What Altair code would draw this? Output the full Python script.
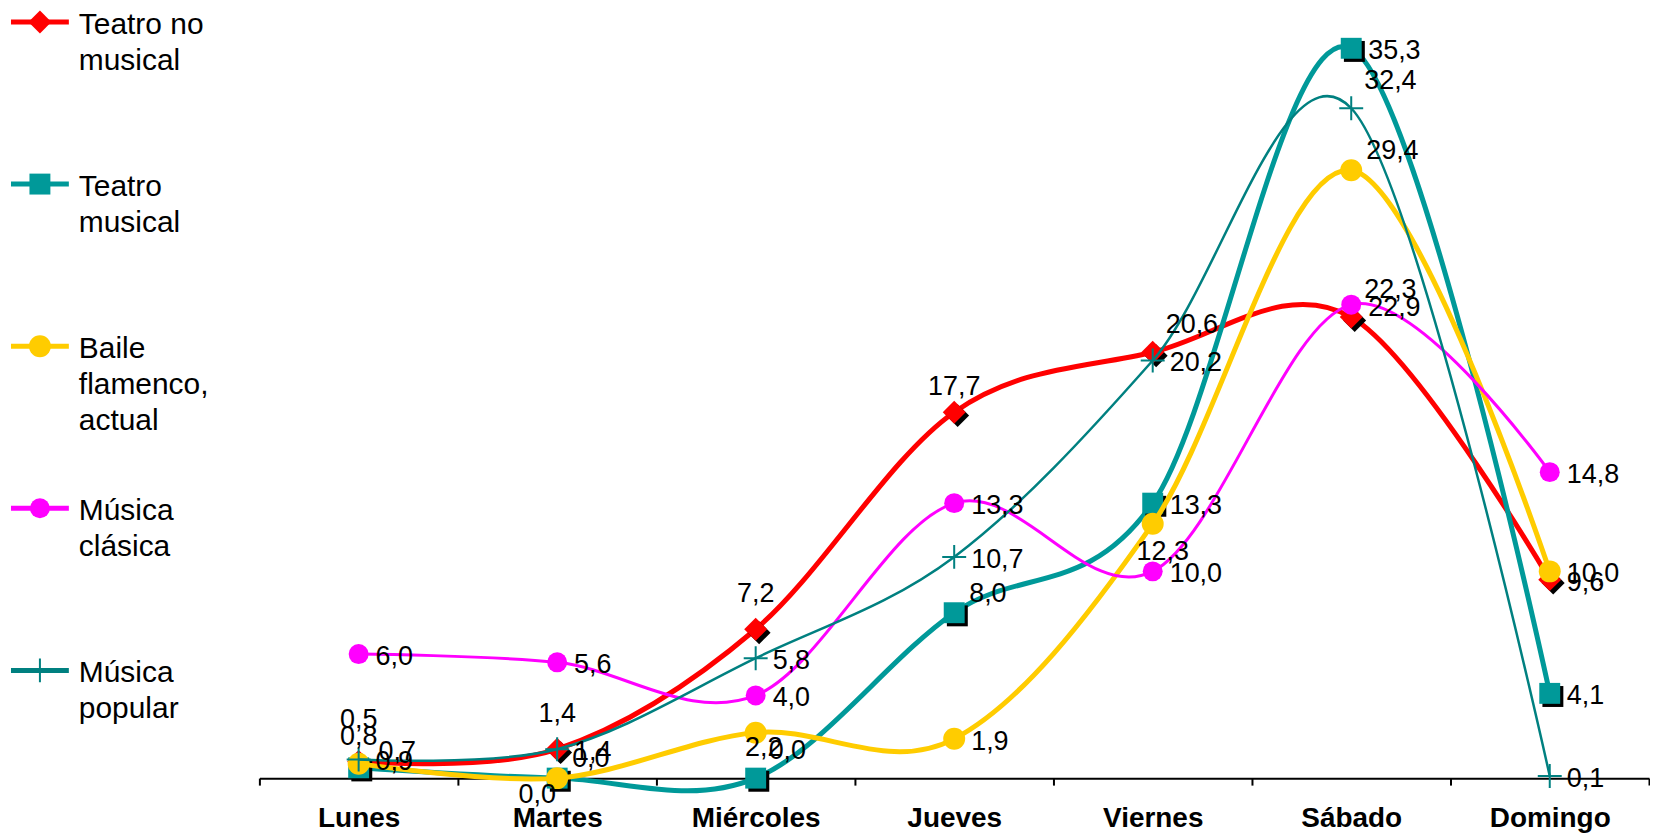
import altair as alt
import pandas as pd

# ---------------- data ----------------
days = ["Lunes", "Martes", "Miércoles", "Jueves", "Viernes", "Sábado", "Domingo"]

series_names = ["Teatro no musical", "Teatro musical", "Baile flamenco, actual",
                "Música clásica", "Música popular"]
legend_texts = ["Teatro no\nmusical", "Teatro\nmusical", "Baile\nflamenco,\nactual",
                "Música\nclásica", "Música\npopular"]

teatro_no_musical = [0.8, 1.4, 7.2, 17.7, 20.6, 22.3, 9.6]
teatro_musical = [0.5, 0.0, 0.0, 8.0, 13.3, 35.3, 4.1]
baile_flamenco = [0.7, 0.0, 2.2, 1.9, 12.3, 29.4, 10.0]
musica_clasica = [6.0, 5.6, 4.0, 13.3, 10.0, 22.9, 14.8]
musica_popular = [0.9, 1.4, 5.8, 10.7, 20.2, 32.4, 0.1]

values_by_series = [teatro_no_musical, teatro_musical, baile_flamenco,
                    musica_clasica, musica_popular]

# ---------------- styles ----------------
FONT = "Liberation Sans"
CROSS = "M-1,0H1M0,-1V1"
SQUARE_SHADOW = "M-0.7,-0.7H1.3V1.3H-0.7Z"
DIAMOND_SHADOW = "M0.3,-0.7L1.3,0.3L0.3,1.3L-0.7,0.3Z"

# label placement styles: (align, dx, dy)
placements = {
    "right": ("left", 17, 3),
    "right_up": ("left", 20, -12),
    "upright": ("left", 13, -27),
    "upright_near": ("left", 15, -19),
    "above": ("center", 0, -35),
    "above_near": ("center", 0, -25),
    "above_far": ("center", 0, -48),
    "below": ("center", 10, 28),
    "below_near": ("center", 8, 15),
    "below_left": ("center", -20, 17),
}

styles = {
    "Teatro no musical": dict(color="#FF0000", width=5, shape="diamond", size=529,
                              filled=True, shadow=DIAMOND_SHADOW,
                              labels=["above_near", "above", "above", "above_near",
                                      "upright", "upright", "right"]),
    "Teatro musical": dict(color="#009999", width=5, shape="square", size=440,
                           filled=True, shadow=SQUARE_SHADOW,
                           labels=["above_far", "upright_near", "upright", "upright_near",
                                   "right", "right", "right"]),
    "Baile flamenco, actual": dict(color="#FFCC00", width=5, shape="circle", size=484,
                                   filled=True, shadow=None,
                                   labels=["right_up", "below_left", "below_near", "right",
                                           "below", "upright_near", "right"]),
    "Música clásica": dict(color="#FF00FF", width=3, shape="circle", size=400,
                           filled=True, shadow=None, labels=["right"] * 7),
    "Música popular": dict(color="#008080", width=2.5, shape=CROSS, size=576,
                           filled=False, shadow=None,
                           labels=["right", "right", "right", "right", "right",
                                   "upright", "right"]),
}

rows = []
for name, vals in zip(series_names, values_by_series):
    for d, v, p in zip(days, vals, styles[name]["labels"]):
        rows.append({"day": d, "series": name, "value": v, "place": p,
                     "label": f"{v:.1f}".replace(".", ",")})
df = pd.DataFrame(rows)

legend_df = pd.DataFrame({"series": series_names, "idx": list(range(len(series_names))),
                          "text": legend_texts})

# ---------------- main chart ----------------
PLOT_H = 771
Y_MAX = 37.2

x_enc = alt.X("day:N", sort=days, bandPosition=0.5,
              scale=alt.Scale(type="band", paddingInner=0, paddingOuter=0),
              axis=alt.Axis(title=None, labelFont=FONT, labelFontWeight="bold",
                            labelFontSize=28, labelColor="black", labelAngle=0,
                            domainColor="black", domainWidth=2, tickColor="black",
                            tickWidth=2, tickSize=7, tickBand="extent",
                            labelPadding=19, grid=False))
y_enc = alt.Y("value:Q", scale=alt.Scale(domain=[0, Y_MAX], nice=False, zero=True),
              axis=None)

base = alt.Chart(df)
layers = []
for name in series_names:
    st = styles[name]
    sub = base.transform_filter(alt.datum.series == name)
    layers.append(sub.mark_line(interpolate="cardinal", tension=0, color=st["color"],
                                strokeWidth=st["width"]).encode(x=x_enc, y=y_enc))
    if st["shadow"]:
        layers.append(sub.mark_point(shape=st["shadow"], filled=True, color="black",
                                     opacity=1, size=st["size"]).encode(x=x_enc, y=y_enc))
    if st["filled"]:
        layers.append(sub.mark_point(shape=st["shape"], filled=True, color=st["color"],
                                     opacity=1, size=st["size"]).encode(x=x_enc, y=y_enc))
    else:
        layers.append(sub.mark_point(shape=st["shape"], filled=False, color=st["color"],
                                     strokeWidth=2, opacity=1,
                                     size=st["size"]).encode(x=x_enc, y=y_enc))

for key, (align, dx, dy) in placements.items():
    sub = base.transform_filter(alt.datum.place == key)
    layers.append(sub.mark_text(font=FONT, fontSize=27, color="black", align=align,
                                baseline="middle", dx=dx, dy=dy).encode(
        x=x_enc, y=y_enc, text="label:N"))

main = alt.layer(*layers).properties(width=7 * 199, height=PLOT_H)

# ---------------- legend panel ----------------
leg_y = alt.Y("idx:Q", scale=alt.Scale(domain=[0, 4], range=[13, 663]), axis=None)
color_scale = alt.Scale(domain=series_names, range=[styles[n]["color"] for n in series_names])
lbase = alt.Chart(legend_df)
leg_layers = [
    lbase.mark_rule(strokeWidth=5).encode(
        x=alt.value(3), x2=alt.value(61), y=leg_y,
        color=alt.Color("series:N", scale=color_scale, legend=None))
]
for name in series_names:
    st = styles[name]
    sub = lbase.transform_filter(alt.datum.series == name)
    leg_layers.append(sub.mark_point(shape=st["shape"], filled=st["filled"],
                                     color=st["color"], opacity=1,
                                     strokeWidth=2, size=st["size"]).encode(
        x=alt.value(32), y=leg_y))
leg_layers.append(lbase.mark_text(font=FONT, fontSize=30, color="black", align="left",
                                  baseline="top", dy=-12, lineHeight=36,
                                  lineBreak="\n").encode(
    x=alt.value(71), y=leg_y, text="text:N"))
legend_panel = alt.layer(*leg_layers).properties(width=251, height=PLOT_H)

chart = alt.hconcat(legend_panel, main, spacing=0).properties(
    padding=0).configure_view(stroke=None)

chart.save("out.html", embed_options={"renderer": "svg", "actions": False})
